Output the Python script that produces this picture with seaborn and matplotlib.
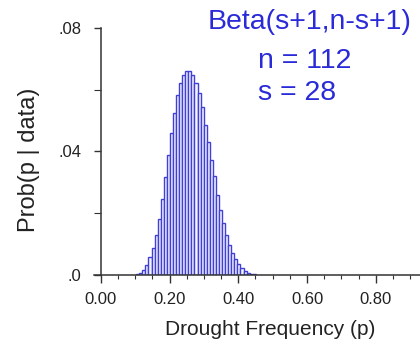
import numpy as np
import pandas as pd
import matplotlib
matplotlib.use("Agg")
import matplotlib.pyplot as plt
from matplotlib.ticker import FixedLocator
import seaborn as sns

# ---- data ----
n_trials = 112
s_successes = 28
k_values = list(range(12, 51))
prob_values = [0.0003, 0.0006, 0.0016, 0.0034, 0.0058, 0.0086, 0.0130, 0.0180,
               0.0245, 0.0317, 0.0389, 0.0461, 0.0524, 0.0583, 0.0621, 0.0648,
               0.0659, 0.0659, 0.0648, 0.0621, 0.0589, 0.0545, 0.0486, 0.0432,
               0.0373, 0.0319, 0.0259, 0.0211, 0.0167, 0.0130, 0.0097, 0.0072,
               0.0051, 0.0036, 0.0022, 0.0014, 0.0007, 0.0004, 0.0002]
x_major = [0.0, 0.2, 0.4, 0.6, 0.8]
x_minor = [0.05, 0.1, 0.15, 0.25, 0.3, 0.35, 0.45, 0.5, 0.55, 0.65, 0.7, 0.75, 0.85, 0.9]
x_labels = ["0.00", "0.20", "0.40", "0.60", "0.80"]
y_major = [0.0, 0.04, 0.08]
y_minor = [0.02, 0.06]
y_labels = [".0", ".04", ".08"]

df = pd.DataFrame({"p": [k / n_trials for k in k_values], "prob": prob_values})

sns.set_theme(style="white")
plt.rcParams["font.family"] = ["Liberation Sans", "DejaVu Sans"]

fig = plt.figure(figsize=(4.2, 3.4), dpi=100)
ax = fig.add_axes([0.224, 0.191, 0.776, 0.727])

sns.barplot(data=df, x="p", y="prob", native_scale=True, width=1.0,
            color="#f4f4ff", edgecolor="#4040d8", linewidth=1.0, saturation=1,
            errorbar=None, ax=ax)

ax.set_xlim(-0.02, 0.929)
ax.set_ylim(0, 0.08)

for side in ["top", "right"]:
    ax.spines[side].set_visible(False)
ax.spines["left"].set_position(("data", 0))
for side in ["left", "bottom"]:
    ax.spines[side].set_color("#333333")
    ax.spines[side].set_linewidth(1.1)

ax.xaxis.set_major_locator(FixedLocator(x_major))
ax.xaxis.set_minor_locator(FixedLocator(x_minor))
ax.set_xticklabels(x_labels)
ax.yaxis.set_major_locator(FixedLocator(y_major))
ax.yaxis.set_minor_locator(FixedLocator(y_minor))
ax.set_yticklabels(y_labels)

ax.tick_params(axis="both", which="both", direction="out", color="#333333",
               labelsize=12, labelcolor="#222222")
ax.tick_params(axis="x", which="major", length=6, width=1.0, bottom=True, pad=6)
ax.tick_params(axis="x", which="minor", length=3, width=0.8, bottom=True)
ax.tick_params(axis="y", which="major", length=5, width=1.0, left=True, pad=9)
ax.tick_params(axis="y", which="minor", length=5, width=0.8, left=True)

ax.set_xlabel("Drought Frequency (p)", fontsize=15, color="#222222")
ax.set_ylabel("Prob(p | data)", fontsize=17, color="#222222")
ax.xaxis.set_label_coords(0.541, -0.18)
ax.yaxis.set_label_coords(-0.166, 0.466)

blue = "#2a2ad8"
fig.text(0.495, 0.935, "Beta(s+1,n-s+1)", fontsize=20.5, color=blue, ha="left", va="center")
fig.text(0.615, 0.82, f"n = {n_trials}", fontsize=20.5, color=blue, ha="left", va="center")
fig.text(0.615, 0.727, f"s = {s_successes}", fontsize=20.5, color=blue, ha="left", va="center")

fig.savefig("out.png", dpi=100)
